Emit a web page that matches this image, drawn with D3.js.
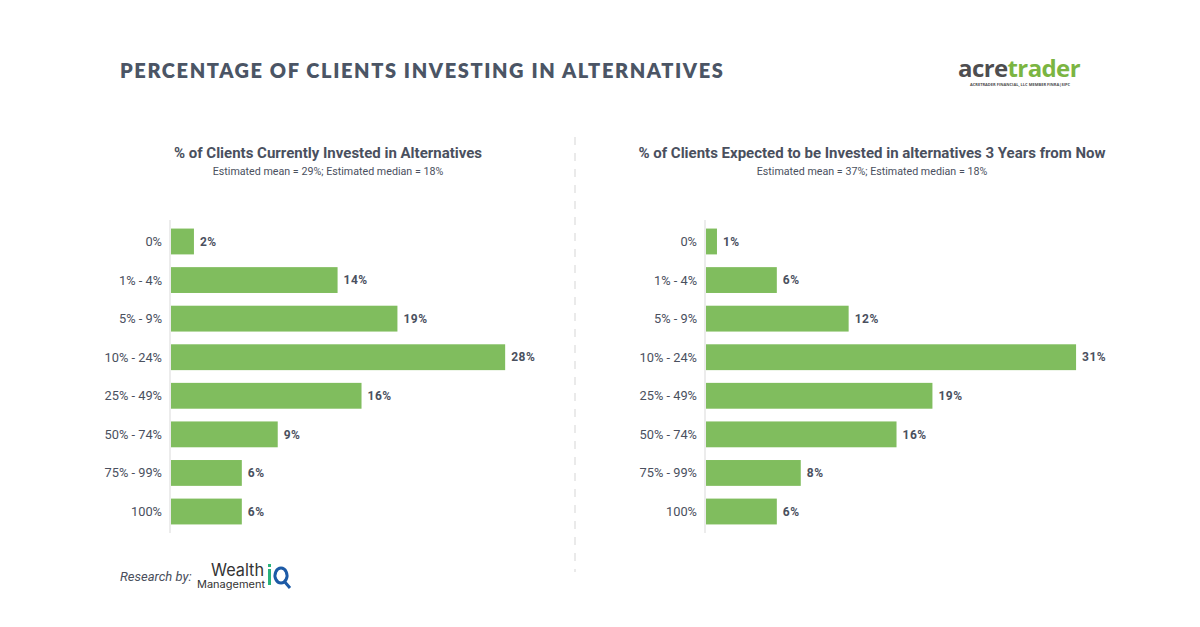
<!DOCTYPE html>
<html>
<head>
<meta charset="utf-8">
<script src="https://cdn.jsdelivr.net/npm/d3@7"></script>
<style>
  body { margin: 0; background: #fff; }
  svg { display: block; }
</style>
</head>
<body>
<div id="vis"></div>
<script>
// chart data
const categories = ["0%", "1% - 4%", "5% - 9%", "10% - 24%", "25% - 49%", "50% - 74%", "75% - 99%", "100%"];
const currentValues = [2, 14, 19, 28, 16, 9, 6, 6];
const futureValues = [1, 6, 12, 31, 19, 16, 8, 6];

const leftTitle = "% of Clients Currently Invested in Alternatives";
const leftSub = "Estimated mean = 29%; Estimated median = 18%";
const rightTitle = "% of Clients Expected to be Invested in alternatives 3 Years from Now";
const rightSub = "Estimated mean = 37%; Estimated median = 18%";

const width = 1200, height = 627;
const barColor = "#80bd5e";
const textColor = "#4a505e";

const svg = d3.select("#vis").append("svg")
  .attr("width", width)
  .attr("height", height);

svg.append("rect").attr("width", width).attr("height", height).attr("fill", "#fff");

// main title
svg.append("text")
  .attr("x", 120)
  .attr("y", 78)
  .text("PERCENTAGE OF CLIENTS INVESTING IN ALTERNATIVES")
  .style("font-family", "Lato, 'Open Sans', sans-serif")
  .style("font-weight", 800)
  .style("font-size", "20px")
  .style("letter-spacing", "1.6px")
  .style("fill", "#4b5565");

// acretrader logo (text)
const logo = svg.append("text")
  .attr("x", 958)
  .attr("y", 77)
  .style("font-family", "'Open Sans', sans-serif")
  .style("font-weight", 700)
  .style("font-size", "24px")
  .style("letter-spacing", "-0.6px");
logo.append("tspan").text("acre").style("fill", "#4e4e50");
logo.append("tspan").text("trader").style("fill", "#7bb542");
svg.append("text")
  .attr("x", 1020)
  .attr("y", 86)
  .attr("text-anchor", "middle")
  .text("ACRETRADER FINANCIAL, LLC MEMBER FINRA|SIPC")
  .style("font-family", "'Open Sans', sans-serif")
  .style("font-weight", 700)
  .style("font-size", "4px")
  .style("fill", "#4e4e50");

// dashed separator
svg.append("line")
  .attr("x1", 575).attr("x2", 575)
  .attr("y1", 137).attr("y2", 572)
  .attr("stroke", "#dcdcdc")
  .attr("stroke-width", 1.2)
  .attr("stroke-dasharray", "8,8");

const y = d3.scaleBand()
  .domain(categories)
  .range([222, 531])
  .paddingInner(0.33)
  .paddingOuter(0.17);

function drawPanel(axisX, titleX, title, sub, values) {
  const x = d3.scaleLinear().domain([0, 1]).range([axisX, axisX + 11.97]);
  const g = svg.append("g");

  g.append("text")
    .attr("x", titleX).attr("y", 158)
    .attr("text-anchor", "middle")
    .text(title)
    .style("font-family", "Roboto, sans-serif")
    .style("font-weight", 700)
    .style("font-size", "15px")
    .style("fill", textColor);

  g.append("text")
    .attr("x", titleX).attr("y", 175)
    .attr("text-anchor", "middle")
    .text(sub)
    .style("font-family", "Roboto, sans-serif")
    .style("font-size", "10.7px")
    .style("fill", textColor);

  // baseline
  g.append("line")
    .attr("x1", axisX).attr("x2", axisX)
    .attr("y1", 220).attr("y2", 533)
    .attr("stroke", "#e6e6e6")
    .attr("stroke-width", 1.5);

  g.selectAll(".bar")
    .data(values)
    .enter()
    .append("rect")
    .attr("class", "bar")
    .attr("x", x(0) + 1)
    .attr("y", (d, i) => y(categories[i]))
    .attr("width", d => x(d) - x(0) - 1)
    .attr("height", y.bandwidth())
    .attr("fill", barColor);

  g.selectAll(".cat")
    .data(categories)
    .enter()
    .append("text")
    .attr("x", axisX - 8)
    .attr("y", d => y(d) + y.bandwidth() / 2)
    .attr("dy", "0.35em")
    .attr("text-anchor", "end")
    .text(d => d)
    .style("font-family", "Roboto, sans-serif")
    .style("font-size", "12.8px")
    .style("fill", textColor);

  g.selectAll(".val")
    .data(values)
    .enter()
    .append("text")
    .attr("x", d => x(d) + 6)
    .attr("y", (d, i) => y(categories[i]) + y.bandwidth() / 2)
    .attr("dy", "0.35em")
    .text(d => d + "%")
    .style("font-family", "Roboto, sans-serif")
    .style("font-weight", 700)
    .style("font-size", "12px")
    .style("letter-spacing", "0.5px")
    .style("fill", textColor);
}

drawPanel(170, 328, leftTitle, leftSub, currentValues);
drawPanel(705, 872, rightTitle, rightSub, futureValues);

// research by footer
svg.append("text")
  .attr("x", 120).attr("y", 581)
  .text("Research by:")
  .style("font-family", "Roboto, sans-serif")
  .style("font-style", "italic")
  .style("font-size", "13px")
  .style("fill", "#4a4f5c");

svg.append("text")
  .attr("x", 211).attr("y", 576)
  .attr("textLength", 53)
  .attr("lengthAdjust", "spacingAndGlyphs")
  .text("Wealth")
  .style("font-family", "Inter, sans-serif")
  .style("font-size", "17px")
  .style("fill", "#333");
svg.append("text")
  .attr("x", 197).attr("y", 588)
  .attr("textLength", 68)
  .attr("lengthAdjust", "spacingAndGlyphs")
  .text("Management")
  .style("font-family", "Inter, sans-serif")
  .style("font-size", "10px")
  .style("fill", "#333");
svg.append("rect")
  .attr("x", 268).attr("y", 569).attr("width", 3).attr("height", 16)
  .attr("fill", "#2ab27b");
svg.append("rect")
  .attr("x", 268).attr("y", 564).attr("width", 3).attr("height", 3)
  .attr("fill", "#2ab27b");
svg.append("path")
  .attr("d", "M281,568 a6,7.5 0 1,0 0.01,0 Z M284,581 L290,588")
  .attr("fill", "none")
  .attr("stroke", "#1c5aa6")
  .attr("stroke-width", 3);
</script>
</body>
</html>
